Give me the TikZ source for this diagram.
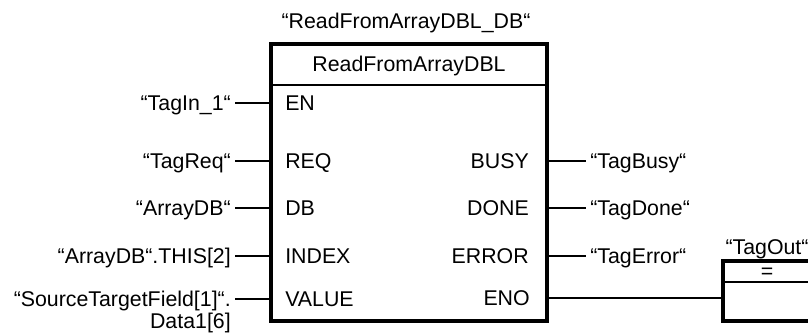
\documentclass[tikz,border=0pt]{standalone}
\usepackage{fontspec}
\setmainfont{Liberation Sans}
\usetikzlibrary{calc}

\begin{document}
\begin{tikzpicture}[x=0.75pt,y=-0.75pt,font=\fontsize{16}{19}\selectfont,
  fbframe/.style={draw,line width=3pt},
  wire/.style={line width=1.5pt},
  thinwire/.style={line width=0.8pt},
  txt/.style={inner xsep=3pt,inner ysep=0pt,text height=14.9pt,text depth=3.4pt}]
\useasboundingbox (0,0) rectangle (808,333);
\clip (0,0) rectangle (808,333);
\def\fbL{271}
\def\fbR{547}
% function block
\draw[fbframe] (\fbL,44) rectangle (\fbR,321);
\draw[thinwire] (\fbL,85) -- (\fbR,85);
\coordinate (fbW) at (\fbL,0);
\coordinate (fbE) at (\fbR,0);
\node[txt] (instDB) at (406,21) {“ReadFromArrayDBL\_DB“};
\node[txt] (fbName) at (409,64) {ReadFromArrayDBL};
% inputs
\foreach \y/\pinname/\tagname in {103/EN/{“TagIn\_1“}, 161/REQ/{“TagReq“}, 208/DB/{“ArrayDB“},
  256/INDEX/{“ArrayDB“.THIS[2]}, 299/VALUE/{“SourceTargetField[1]“.}} {
  \node[txt,anchor=west] (in\pinname) at (281,\y) {\pinname};
  \node[txt,anchor=east] (tag\pinname) at (235,\y) {\tagname};
  \draw[wire] (tag\pinname.east) -- (in\pinname.west -| fbW);
}
\node[txt,anchor=north east,yshift=2pt] (tagVALUEb) at (tagVALUE.south east) {Data1[6]};
% outputs
\foreach \y/\pinname/\tagname in {161/BUSY/{“TagBusy“}, 208/DONE/{“TagDone“}, 256/ERROR/{“TagError“}} {
  \node[txt,anchor=east] (out\pinname) at (533,\y) {\pinname};
  \node[txt,anchor=west] (tag\pinname) at (586,\y) {\tagname};
  \draw[wire] (out\pinname.east -| fbE) -- (tag\pinname.west);
}
\node[txt,anchor=east] (outENO) at (534,298) {ENO};
% output coil
\draw[fbframe] (723,261) rectangle (813,321);
\draw[thinwire] (723,282) -- (813,282);
\coordinate (coilW) at (723,0);
\node[txt] (coilOp) at (767,271) {=};
\node[txt,anchor=south] (coilTag) at (767,259) {“TagOut“};
\draw[thinwire] (outENO.east -| fbE) -- (outENO.east -| coilW);
\end{tikzpicture}
\end{document}
